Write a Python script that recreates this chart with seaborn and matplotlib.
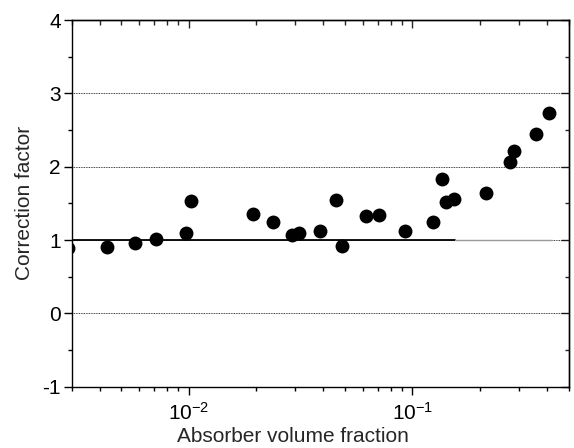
import numpy as np
import pandas as pd
import matplotlib
matplotlib.use("Agg")
import matplotlib.pyplot as plt
import matplotlib.ticker as mticker
import seaborn as sns

# Measured samples: absorber volume fraction vs. correction factor
volume_fraction = [0.0029, 0.00429, 0.00574, 0.00717, 0.0097, 0.01028,
                   0.0194, 0.0237, 0.0290, 0.0311, 0.0388, 0.0454,
                   0.0485, 0.0618, 0.0709, 0.0925, 0.124, 0.1356,
                   0.1419, 0.1535, 0.2128, 0.273, 0.284, 0.355, 0.408]
correction_factor = [0.89, 0.91, 0.96, 1.02, 1.10, 1.53,
                     1.35, 1.24, 1.07, 1.09, 1.13, 1.54,
                     0.92, 1.33, 1.34, 1.12, 1.24, 1.83,
                     1.52, 1.56, 1.64, 2.07, 2.21, 2.44, 2.73]

df = pd.DataFrame({"fraction": volume_fraction, "factor": correction_factor})

sns.set_style("ticks")
plt.rcParams["font.family"] = ["Liberation Sans", "DejaVu Sans"]
plt.rcParams["axes.unicode_minus"] = False
plt.rcParams["mathtext.fontset"] = "custom"
plt.rcParams["mathtext.rm"] = "Liberation Sans"

fig = plt.figure(figsize=(5.74, 4.48), dpi=100)
ax = fig.add_axes([0.125, 0.137, 0.866, 0.818])

ax.set_xscale("log")
ax.set_xlim(0.003, 0.5)
ax.set_ylim(-1, 4)

# dotted horizontal guides
ax.yaxis.grid(True, which="major", linestyle=(0, (1, 1)), color="black", linewidth=0.6)
ax.set_axisbelow(True)
# unity reference line
ax.plot([0.003, 0.155], [1, 1], color="black", linewidth=1.3, zorder=1)
ax.plot([0.155, 0.42], [1, 1], color="#999999", linewidth=1.0, zorder=1)

sns.scatterplot(data=df, x="fraction", y="factor", ax=ax, s=100,
                color="black", edgecolor="black", linewidth=0, zorder=3,
                clip_on=True)

ax.set_xlabel("Absorber volume fraction", fontsize=15, labelpad=2)
ax.xaxis.label.set_x(0.444)
ax.set_ylabel("Correction factor", fontsize=15, labelpad=6)

ax.yaxis.set_major_locator(mticker.MultipleLocator(1))
ax.yaxis.set_minor_locator(mticker.MultipleLocator(0.5))
ax.yaxis.set_major_formatter(mticker.FormatStrFormatter("%d"))
ax.xaxis.set_major_locator(mticker.LogLocator(base=10, numticks=10))
ax.xaxis.set_minor_locator(mticker.LogLocator(base=10, subs=np.arange(2, 10), numticks=20))
ax.xaxis.set_minor_formatter(mticker.NullFormatter())

for sp in ax.spines.values():
    sp.set_linewidth(1.0)
    sp.set_visible(True)
    sp.set_color("black")

ax.tick_params(which="major", direction="out", length=6, width=1.0,
               labelsize=15, colors="black", pad=2)
ax.tick_params(axis="x", which="major", pad=5)
ax.tick_params(which="minor", direction="out", length=3, width=1.0, colors="black")

top = ax.secondary_xaxis("top")
top.xaxis.set_major_locator(mticker.LogLocator(base=10, numticks=10))
top.xaxis.set_minor_locator(mticker.LogLocator(base=10, subs=np.arange(2, 10), numticks=20))
top.tick_params(which="major", direction="in", length=6, width=1.0, labeltop=False)
top.tick_params(which="minor", direction="in", length=3.5, width=1.0)
top.spines["top"].set_linewidth(1.0)

right = ax.secondary_yaxis("right")
right.yaxis.set_major_locator(mticker.MultipleLocator(1))
right.yaxis.set_minor_locator(mticker.MultipleLocator(0.5))
right.tick_params(which="major", direction="in", length=6, width=1.0, labelright=False)
right.tick_params(which="minor", direction="in", length=3, width=1.0)
right.spines["right"].set_linewidth(1.0)

fig.savefig("out.png", dpi=100)
